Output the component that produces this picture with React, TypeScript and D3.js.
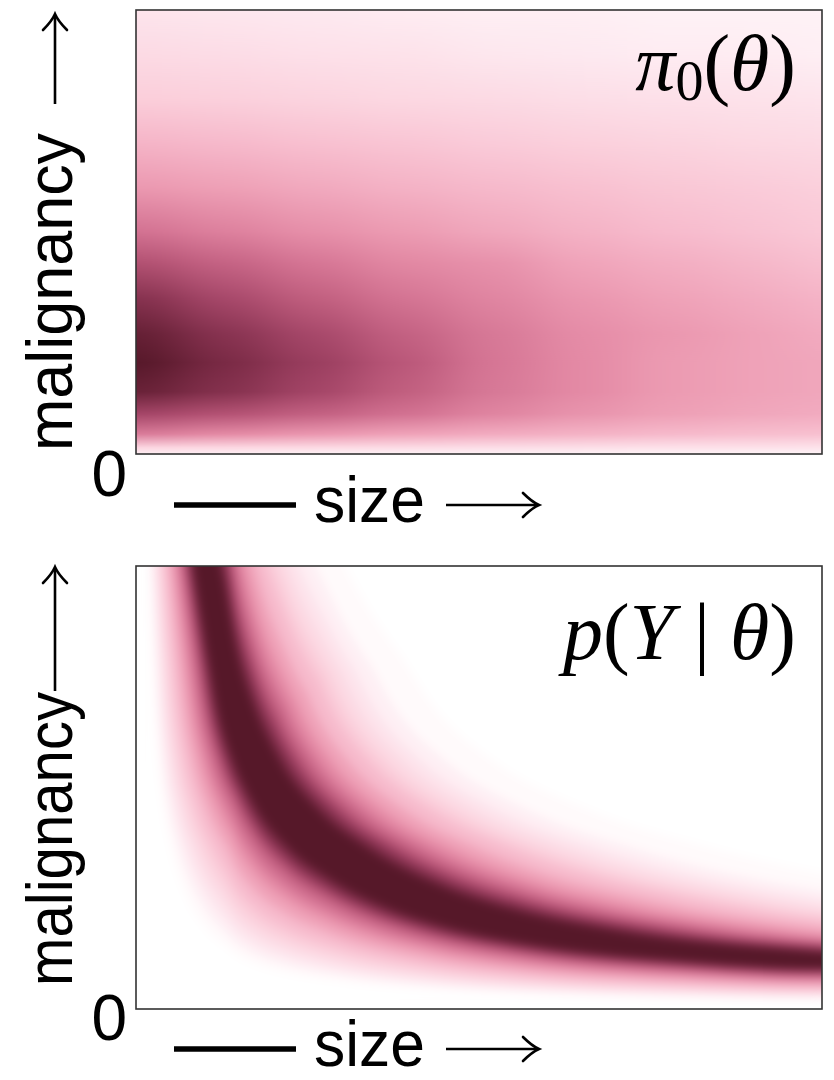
import React from 'react';
import * as d3 from 'd3';

// colour map (value -> colour)
const cmapStops = [0, 0.1, 0.2, 0.3, 0.4, 0.5, 0.6, 0.7, 0.8, 0.9, 1];
const cmapColours = ['#ffffff', '#fde4ec', '#fbd0dc', '#f6b9cb', '#efa2b8', '#e48aa5', '#d27191', '#bd5a7b', '#9e4062', '#7a2a45', '#561829'];

// prior pi0(theta): columns are size, rows are malignancy (top row = 1)
const priorSize = [0, 0.13, 0.26, 0.39, 0.52, 0.65, 0.78, 0.91, 1];
const priorMalignancy = [1, 0.9, 0.8, 0.7, 0.6, 0.5, 0.43, 0.35, 0.27, 0.205, 0.14, 0.09, 0.045, 0.015, 0];
const priorDensity = [
  [0.10, 0.09, 0.08, 0.07, 0.06, 0.06, 0.05, 0.05, 0.05],
  [0.15, 0.14, 0.12, 0.11, 0.09, 0.08, 0.07, 0.07, 0.06],
  [0.21, 0.20, 0.18, 0.16, 0.15, 0.13, 0.12, 0.11, 0.10],
  [0.32, 0.30, 0.27, 0.25, 0.22, 0.20, 0.18, 0.16, 0.15],
  [0.44, 0.41, 0.37, 0.33, 0.30, 0.27, 0.24, 0.22, 0.20],
  [0.60, 0.54, 0.48, 0.43, 0.38, 0.33, 0.29, 0.26, 0.23],
  [0.74, 0.66, 0.58, 0.51, 0.47, 0.39, 0.35, 0.31, 0.27],
  [0.87, 0.77, 0.68, 0.59, 0.52, 0.45, 0.40, 0.36, 0.32],
  [0.96, 0.86, 0.77, 0.67, 0.57, 0.49, 0.44, 0.40, 0.36],
  [1.00, 0.90, 0.81, 0.71, 0.58, 0.50, 0.43, 0.40, 0.38],
  [0.95, 0.87, 0.78, 0.68, 0.57, 0.50, 0.43, 0.40, 0.38],
  [0.78, 0.73, 0.67, 0.60, 0.52, 0.46, 0.41, 0.38, 0.36],
  [0.56, 0.50, 0.45, 0.40, 0.36, 0.33, 0.30, 0.28, 0.27],
  [0.18, 0.17, 0.16, 0.15, 0.14, 0.13, 0.12, 0.12, 0.11],
  [0.06, 0.06, 0.05, 0.05, 0.05, 0.05, 0.04, 0.04, 0.04],
];

// likelihood p(Y | theta): ridge line of the band
const ridgeSize = [0.102, 0.130, 0.146, 0.173, 0.220, 0.283, 0.429, 0.574, 0.793, 0.997];
const ridgeMalignancy = [1.0, 0.788, 0.675, 0.562, 0.449, 0.359, 0.239, 0.178, 0.133, 0.112];
// level -> where it starts (inside) and ends (outside), as multiples of the ridge
const likeLevel = [0.02, 0.06, 0.1, 0.15, 0.2, 0.25, 0.3, 0.4, 0.5, 0.6, 0.7, 0.8, 0.88, 0.95, 1.0];
const likeInner = [0.18, 0.22, 0.26, 0.30, 0.34, 0.38, 0.42, 0.48, 0.55, 0.61, 0.67, 0.72, 0.76, 0.8, 0.83];
const likeOuter = [3.0, 2.6, 2.4, 2.25, 2.12, 2.02, 1.93, 1.78, 1.64, 1.53, 1.44, 1.36, 1.29, 1.23, 1.19];

const sans = '"Liberation Sans", Arial, Helvetica, sans-serif';
const serif = '"Liberation Serif", "Times New Roman", serif';

type Pt = { s: number; m: number };

const Arrow = ({ x1, y1, x2, y2 }: { x1: number; y1: number; x2: number; y2: number }) => {
  const len = Math.hypot(x2 - x1, y2 - y1);
  const ang = (Math.atan2(y2 - y1, x2 - x1) * 180) / Math.PI;
  return (
    <g transform={`translate(${x2},${y2}) rotate(${ang})`} fill="none" stroke="#000" strokeWidth={2.6}>
      <line x1={-len} y1={0} x2={-1} y2={0} />
      <path d="M-16,-12 Q-7,-3 0,0 Q-7,3 -16,12" strokeLinecap="round" />
    </g>
  );
};

export default function App() {
  const xScale = d3.scaleLinear().domain([0, 1]).range([136, 822]);
  const yTop = d3.scaleLinear().domain([0, 1]).range([454, 10]);
  const yBot = d3.scaleLinear().domain([0, 1]).range([1009, 566]);
  const cmap = d3
    .scaleLinear<string>()
    .domain(cmapStops)
    .range(cmapColours)
    .interpolate(d3.interpolateRgb)
    .clamp(true);

  // prior columns, each with a vertical gradient through its rows
  const columns = priorSize.map((s, j) => {
    const left = j === 0 ? -0.25 : (s + priorSize[j - 1]) / 2;
    const right = j === priorSize.length - 1 ? 1.25 : (s + priorSize[j + 1]) / 2;
    return { j, x0: xScale(left), x1: xScale(right) };
  });

  // likelihood regions: area above the ridge scaled along size or malignancy
  const ridge: Pt[] = ridgeSize.map((s, i) => ({ s, m: ridgeMalignancy[i] }));
  const last = ridge[ridge.length - 1];
  const ridgeExt = [...ridge, { s: last.s + 0.15, m: last.m }];
  const above = (kx: number, ky: number) =>
    d3
      .area<Pt>()
      .curve(d3.curveMonotoneX)
      .x((d) => xScale(d.s * kx))
      .y0(yBot(6))
      .y1((d) => yBot(d.m * ky))(ridgeExt) || '';
  const region = (k: number) => [above(k, 1), above(1, k)];

  const layers: { d: string; fill: string }[] = [];
  likeLevel.forEach((v, i) => {
    region(likeInner[i]).forEach((d) => layers.push({ d, fill: cmap(v) }));
  });
  for (let i = likeLevel.length - 1; i >= 0; i--) {
    const c = i === 0 ? '#ffffff' : cmap(likeLevel[i - 1]);
    region(likeOuter[i]).forEach((d) => layers.push({ d, fill: c }));
  }

  const fw = 686;
  const ylabel = (baseX: number, startY: number, len: number) => (
    <text
      transform={`translate(${baseX},${startY}) rotate(-90)`}
      fontFamily={sans}
      fontSize={64}
      textLength={len}
      lengthAdjust="spacingAndGlyphs"
    >
      malignancy
    </text>
  );
  const xlabel = (dy: number) => (
    <g>
      <text x={127} y={496 + dy} fontFamily={sans} fontSize={64} textAnchor="end">
        0
      </text>
      <line x1={174} x2={296} y1={505 + dy} y2={505 + dy} stroke="#000" strokeWidth={5.5} />
      <text x={314} y={522 + dy} fontFamily={sans} fontSize={64} textLength={111} lengthAdjust="spacingAndGlyphs">
        size
      </text>
      <Arrow x1={446} y1={505 + dy} x2={539} y2={505 + dy} />
    </g>
  );

  return (
    <svg width={834} height={1080} style={{ position: 'absolute', left: 0, top: 0, background: '#fff' }}>
      <defs>
        <clipPath id="clipTop">
          <rect x={136} y={10} width={fw} height={444} />
        </clipPath>
        <clipPath id="clipBot">
          <rect x={136} y={566} width={fw} height={443} />
        </clipPath>
        <filter id="blurX" x={0} y={0} width={834} height={500} filterUnits="userSpaceOnUse" colorInterpolationFilters="sRGB">
          <feGaussianBlur stdDeviation="28 0" />
        </filter>
        <filter id="blurBand" x={60} y={480} width={800} height={600} filterUnits="userSpaceOnUse" colorInterpolationFilters="sRGB">
          <feGaussianBlur stdDeviation="5" />
        </filter>
        {columns.map((c) => (
          <linearGradient
            key={c.j}
            id={`col${c.j}`}
            gradientUnits="userSpaceOnUse"
            x1={0}
            x2={0}
            y1={yTop(1)}
            y2={yTop(0)}
          >
            {priorMalignancy.map((m, i) => (
              <stop key={i} offset={1 - m} stopColor={cmap(priorDensity[i][c.j])} />
            ))}
          </linearGradient>
        ))}
      </defs>

      {/* prior */}
      <g clipPath="url(#clipTop)">
        <g filter="url(#blurX)">
          {columns.map((c) => (
            <rect key={c.j} x={c.x0} y={yTop(1)} width={c.x1 - c.x0 + 0.5} height={yTop(0) - yTop(1)} fill={`url(#col${c.j})`} />
          ))}
        </g>
      </g>
      <rect x={136} y={10} width={fw} height={444} fill="none" stroke="#333" strokeWidth={1.6} />
      <text x={796} y={90} fontFamily={serif} fontSize={80} textAnchor="end">
        <tspan fontStyle="italic">π</tspan>
        <tspan fontSize={56} dy={10}>0</tspan>
        <tspan dy={-10}>(</tspan>
        <tspan fontStyle="italic">θ</tspan>
        <tspan>)</tspan>
      </text>

      {/* likelihood */}
      <g clipPath="url(#clipBot)">
        <g filter="url(#blurBand)">
          <rect x={136} y={566} width={fw} height={443} fill="#fff" />
          {layers.map((l, i) => (
            <path key={i} d={l.d} fill={l.fill} />
          ))}
        </g>
      </g>
      <rect x={136} y={566} width={fw} height={443} fill="none" stroke="#333" strokeWidth={1.6} />
      <text x={796} y={659} fontFamily={serif} fontSize={80} textAnchor="end">
        <tspan fontStyle="italic">p</tspan>
        <tspan>(</tspan>
        <tspan fontStyle="italic">Y</tspan>
        <tspan> | </tspan>
        <tspan fontStyle="italic">θ</tspan>
        <tspan>)</tspan>
      </text>

      {/* axis labels */}
      {ylabel(72, 451, 318)}
      <Arrow x1={55} y1={104} x2={55} y2={14} />
      {xlabel(0)}

      {ylabel(72, 986, 294)}
      <Arrow x1={55} y1={691} x2={55} y2={567} />
      {xlabel(544)}
    </svg>
  );
}
